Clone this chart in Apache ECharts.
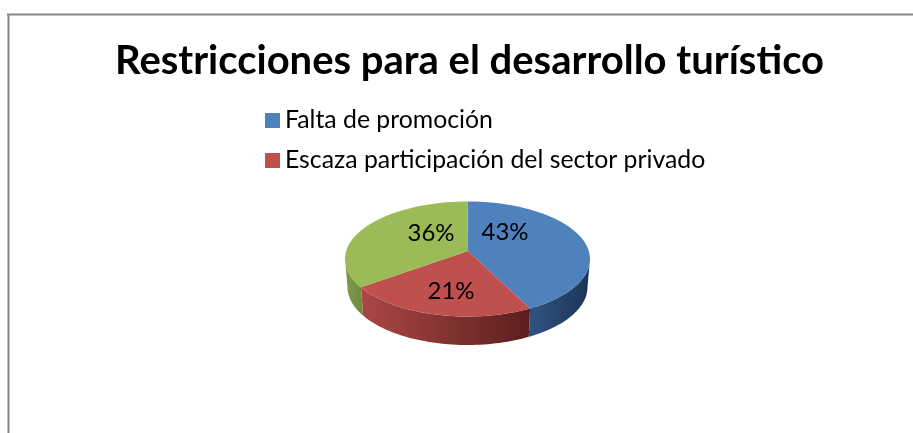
<!DOCTYPE html>
<html><head><meta charset="utf-8">
<style>html,body{margin:0;padding:0;background:#fff}#c{width:913px;height:433px}</style>
<script src="https://cdn.jsdelivr.net/npm/echarts@6/dist/echarts.min.js"></script>
</head><body><div id="c"></div>
<script>
const titleText = 'Restricciones para el desarrollo turístico';
const categories = ['Falta de promoción', 'Escaza participación del sector privado', 'Otros'];
const legendCategories = ['Falta de promoción', 'Escaza participación del sector privado'];
const values = [43, 21, 36];
const topColors = ['#4f81bd', '#c0504d', '#9bbb59'];
const wallStops = [['#2f5483', '#1c3555'], ['#ab4744', '#5b1f1e'], ['#7f9b48', '#6f8a3e']];

const FONT = 'Lato';
const P = {cx: 467.5, cy: 259, rx: 122.5, ry: 57.5, apexLift: 8, skew: 13, depth: 28, brx: 120, bry: 58};
const labelOffsets = [[37, -19], [-17, 40], [-37, -18]];
const total = values.reduce((a, b) => a + b, 0);

function rimAngle(pct) {
  const phi = pct / total * 2 * Math.PI;
  const dx = Math.sin(phi), dy = -Math.cos(phi), ay = -P.skew / P.ry;
  const b = ay * dy, c = ay * ay - 1;
  const t = -b + Math.sqrt(b * b - c);
  return Math.atan2(dx * t, -(ay + dy * t));
}
function norm(a, lo) { while (a < lo) a += 2 * Math.PI; return a; }
function rimPts(a0, a1, cy, rx, ry) {
  const n = 48, pts = [];
  for (let i = 0; i <= n; i++) {
    const a = a0 + (a1 - a0) * i / n;
    pts.push([P.cx + rx * Math.sin(a), cy - ry * Math.cos(a)]);
  }
  return pts;
}
function makeRender(index) {
  return function (params, api) {
    const v = api.value(0);
    let before = 0;
    for (let i = 0; i < index; i++) before += values[i];
    const a0 = before === 0 ? 0 : norm(rimAngle(before), 0);
    const a1 = before + v >= total ? 2 * Math.PI : norm(rimAngle(before + v), a0);
    const apex = [P.cx + 0.5, P.cy - P.apexLift];
    const children = [];
    const w0 = Math.max(a0, Math.PI / 2), w1 = Math.min(a1, 3 * Math.PI / 2);
    if (w1 > w0) {
      const top = rimPts(w0, w1, P.cy, P.rx, P.ry);
      const bot = rimPts(w0, w1, P.cy + P.depth, P.brx, P.bry).reverse();
      children.push({
        type: 'polygon', shape: {points: top.concat(bot)},
        style: {fill: {type: 'linear', x: 0, y: 0, x2: 1, y2: 0, global: false,
          colorStops: [{offset: 0, color: wallStops[index][0]}, {offset: 1, color: wallStops[index][1]}]}}
      });
    }
    children.push({
      type: 'polygon', shape: {points: [apex].concat(rimPts(a0, a1, P.cy, P.rx, P.ry))},
      style: {fill: topColors[index]}
    });
    children.push({
      type: 'text', z2: 10,
      style: {x: apex[0] + labelOffsets[index][0], y: apex[1] + labelOffsets[index][1],
        text: v + '%', fill: '#000', font: '24px ' + FONT, textAlign: 'center', textVerticalAlign: 'middle'}
    });
    return {type: 'group', children};
  };
}

const chart = echarts.init(document.getElementById('c'), null, {renderer: 'canvas'});
chart.setOption({
  animation: false,
  backgroundColor: '#fff',
  title: {text: titleText, left: 110, top: 36,
    textStyle: {fontFamily: FONT, fontSize: 40, fontWeight: 'bold', color: '#000'}},
  legend: {
    data: legendCategories, orient: 'vertical', left: 260, top: 103,
    icon: 'rect', itemWidth: 15, itemHeight: 15, itemGap: 15, itemStyle: {borderWidth: 0}, selectedMode: false,
    textStyle: {fontFamily: FONT, fontSize: 24.8, color: '#000'}
  },
  graphic: [
    {type: 'line', shape: {x1: 7, y1: 14.5, x2: 913, y2: 14.5}, style: {stroke: '#868686', lineWidth: 2}},
    {type: 'line', shape: {x1: 8.5, y1: 14, x2: 8.5, y2: 433}, style: {stroke: '#868686', lineWidth: 2}}
  ],
  series: categories.map((name, i) => ({
    type: 'custom', name, coordinateSystem: 'none',
    itemStyle: {color: topColors[i]},
    data: [[values[i]]], renderItem: makeRender(i), silent: true
  }))
});
</script></body></html>
